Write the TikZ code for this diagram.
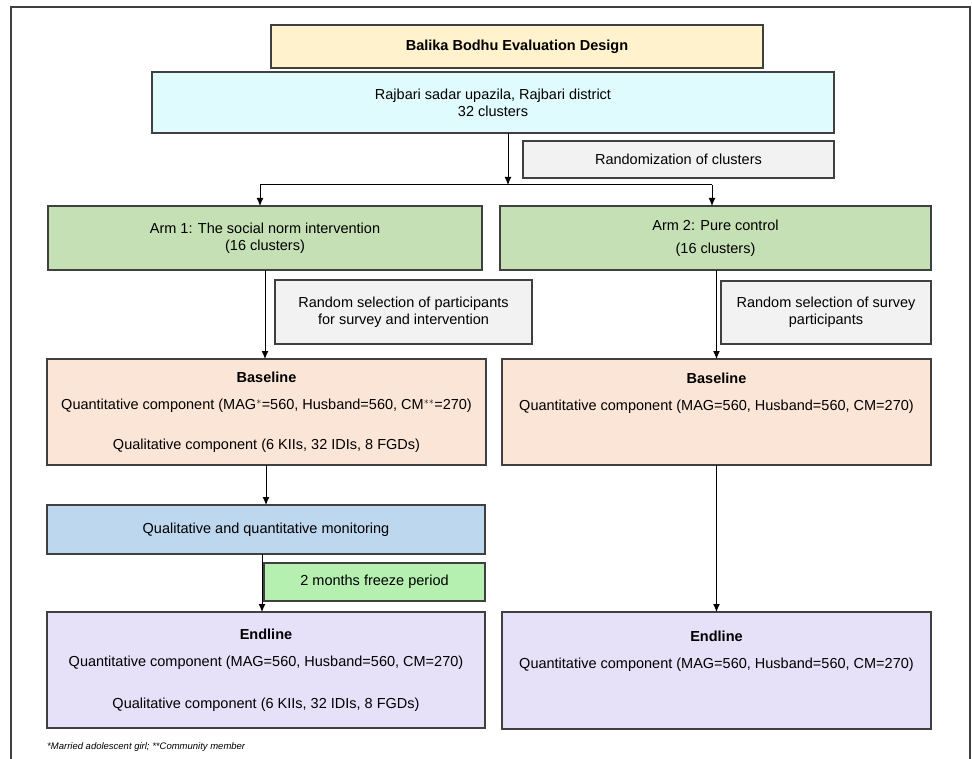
\documentclass[tikz,border=0pt]{standalone}
\usepackage{fontspec}
\setmainfont{Liberation Sans}
\usepackage{tikz}
\usetikzlibrary{arrows.meta, positioning, calc}

\definecolor{edgegray}{HTML}{404040}
\definecolor{titlefill}{HTML}{FFF2CC}
\definecolor{regionfill}{HTML}{E0FBFD}
\definecolor{notefill}{HTML}{F2F2F2}
\definecolor{armfill}{HTML}{C5E0B4}
\definecolor{basefill}{HTML}{FBE5D6}
\definecolor{monfill}{HTML}{BDD7EE}
\definecolor{freezefill}{HTML}{B5F0B0}
\definecolor{endfill}{HTML}{E6E1F8}

\tikzset{
  box/.style={draw=edgegray, line width=1.2pt, inner sep=0pt, outer sep=0pt, align=center,
    font=\fontsize{14.5}{17}\selectfont},
  flow/.style={-{Latex[length=8pt,width=7pt]}, line width=1pt, black},
  frame/.style={draw=edgegray, line width=1.6pt}
}

\begin{document}
\begin{tikzpicture}[x=1pt, y=-1pt]
\useasboundingbox (0,0) rectangle (972,759);
\draw [frame] (11,775) -- (11,7) -- (970,7) -- (970,775);

\node [box, fill=titlefill, minimum width=492pt, minimum height=43pt] (title) at (517,46.5) {\textbf{Balika Bodhu Evaluation Design}};
\node [box, fill=regionfill, minimum width=682pt, minimum height=61pt] (region) at (493,102.5) {Rajbari sadar upazila, Rajbari district\\32 clusters};
\node [box, fill=notefill, minimum width=311pt, minimum height=37pt] (rand) at (678.5,159.5) {Randomization of clusters};

\node [box, fill=armfill, minimum width=434pt, minimum height=64pt] (arm1) at (265,238) {Arm 1: The social norm intervention\\(16 clusters)};
\node [box, fill=armfill, minimum width=431pt, minimum height=64pt] (arm2) at (715.5,238) {Arm 2: Pure control\\[6pt](16 clusters)};

\node [box, fill=notefill, minimum width=257pt, minimum height=64pt] (sel1) at (403.5,312) {Random selection of participants\\for survey and intervention};
\node [box, fill=notefill, minimum width=210pt, minimum height=63pt] (sel2) at (826,312.5) {Random selection of survey\\participants};

\node [box, fill=basefill, minimum width=439pt, minimum height=106pt] (base1) at (266.5,412) {\textbf{Baseline}\\[10pt]Quantitative component (MAG$^{*}$=560, Husband=560, CM$^{**}$=270)\\[23pt]Qualitative component (6 KIIs, 32 IDIs, 8 FGDs)};
\node [box, fill=basefill, minimum width=429pt, minimum height=106pt] (base2) at (716.5,412) {\textbf{Baseline}\\[10pt]Quantitative component (MAG=560, Husband=560, CM=270)\\[23pt]~};

\node [box, fill=monfill, minimum width=438pt, minimum height=49pt] (monitor) at (266,529.5) {Qualitative and quantitative monitoring};
\node [box, fill=freezefill, minimum width=221pt, minimum height=38pt] (freeze) at (374.5,582) {2 months freeze period};

\node [box, fill=endfill, minimum width=438pt, minimum height=116pt] (end1) at (266,670) {\textbf{Endline}\\[10pt]Quantitative component (MAG=560, Husband=560, CM=270)\\[25pt]Qualitative component (6 KIIs, 32 IDIs, 8 FGDs)};
\node [box, fill=endfill, minimum width=429pt, minimum height=117pt] (end2) at (716.5,670.5) {\textbf{Endline}\\[10pt]Quantitative component (MAG=560, Husband=560, CM=270)\\[25pt]~};

\node [anchor=west, inner sep=0pt, font=\fontsize{9.5}{11}\selectfont\itshape] (note) at (47,747) {*Married adolescent girl; **Community member};

% split into the two arms
\coordinate (split) at (508,185);
\coordinate (splitL) at (260,185);
\coordinate (splitR) at (712,185);
\draw [flow] (split |- region.south) -- (split);
\draw [line width=1pt] (splitL) -- (splitR);
\draw [flow] (splitL) -- (splitL |- arm1.north);
\draw [flow] (splitR) -- (splitR |- arm2.north);

% arm 1
\draw [flow] (arm1.south) -- (arm1.south |- base1.north);
\draw [flow] (base1.south -| monitor.north) -- (monitor.north);
\draw [flow] ([xshift=-2pt]freeze.west |- monitor.south) -- ([xshift=-2pt]freeze.west |- end1.north);

% arm 2
\draw [flow] (arm2.south -| base2.north) -- (base2.north);
\draw [flow] (base2.south) -- (end2.north);
\end{tikzpicture}
\end{document}
